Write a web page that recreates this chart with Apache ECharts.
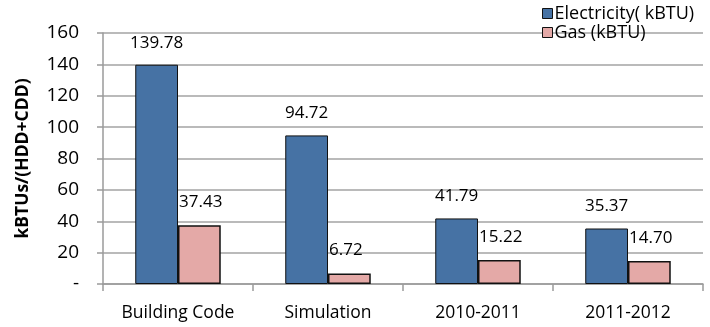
<!DOCTYPE html>
<html>
<head>
<meta charset="utf-8">
<script src="https://cdn.jsdelivr.net/npm/echarts@6/dist/echarts.min.js"></script>
<style>
  html, body { margin: 0; padding: 0; background: #fff; }
  #chart { width: 710px; height: 327px; }
</style>
</head>
<body>
<div id="chart"></div>
<script>
// Energy use intensity per degree-day, by scenario
const categories = ['Building Code', 'Simulation', '2010-2011', '2011-2012'];
const electricity = [139.78, 94.72, 41.79, 35.37];
const gas = [37.43, 6.72, 15.22, 14.70];
const seriesNames = ['Electricity( kBTU)', 'Gas (kBTU)'];
const axisTitle = 'kBTUs/(HDD+CDD)';

const font = '"Open Sans", "Noto Sans", sans-serif';
const chart = echarts.init(document.getElementById('chart'), null, { renderer: 'canvas' });

chart.setOption({
  animation: false,
  backgroundColor: '#ffffff',
  textStyle: { fontFamily: font, color: '#000' },
  legend: {
    orient: 'vertical',
    left: 542,
    top: 4,
    padding: 0,
    itemWidth: 10,
    itemHeight: 10,
    itemGap: 0,
    icon: 'rect',
    itemStyle: { borderColor: '#111', borderWidth: 1 },
    textStyle: { fontFamily: font, fontSize: 18, lineHeight: 19, color: '#000', padding: [0, 0, 0, -3] },
    data: seriesNames
  },
  grid: { left: 103, right: 7, top: 33, bottom: 43, containLabel: false },
  xAxis: {
    type: 'category',
    data: categories,
    axisLine: { lineStyle: { color: '#9a9a9a', width: 1.5 } },
    axisTick: { show: true, length: 7, lineStyle: { color: '#9a9a9a', width: 1.5 } },
    axisLabel: { interval: 0, fontFamily: font, fontSize: 17.5, color: '#000', margin: 20 }
  },
  yAxis: {
    type: 'value',
    min: 0,
    max: 160,
    interval: 20,
    name: axisTitle,
    nameLocation: 'middle',
    nameGap: 71,
    nameTextStyle: { fontFamily: font, fontSize: 17.5, fontWeight: 'bold', color: '#000' },
    axisLine: { show: true, lineStyle: { color: '#9a9a9a', width: 1.5 } },
    axisTick: { show: true, length: 6, lineStyle: { color: '#9a9a9a', width: 1.5 } },
    splitLine: { lineStyle: { color: '#a3a3a3', width: 1.5 } },
    axisLabel: {
      fontFamily: font, fontSize: 19, color: '#000', margin: 24,
      formatter: v => (v === 0 ? '-' : String(v))
    }
  },
  series: [
    {
      name: seriesNames[0],
      type: 'bar',
      data: electricity,
      barGap: '0%',
      barCategoryGap: '43%',
      itemStyle: { color: '#4672a4', borderColor: '#111', borderWidth: 1 },
      label: {
        show: true,
        position: ['50%', -22],
        align: 'center',
        verticalAlign: 'middle',
        fontFamily: font, fontSize: 17, color: '#000',
        formatter: p => p.value.toFixed(2)
      }
    },
    {
      name: seriesNames[1],
      type: 'bar',
      data: gas,
      itemStyle: { color: '#e4a9a7', borderColor: '#111', borderWidth: 1.5 },
      label: {
        show: true,
        position: [1, -23],
        align: 'left',
        verticalAlign: 'middle',
        fontFamily: font, fontSize: 17, color: '#000',
        formatter: p => p.value.toFixed(2)
      }
    }
  ]
});
</script>
</body>
</html>
